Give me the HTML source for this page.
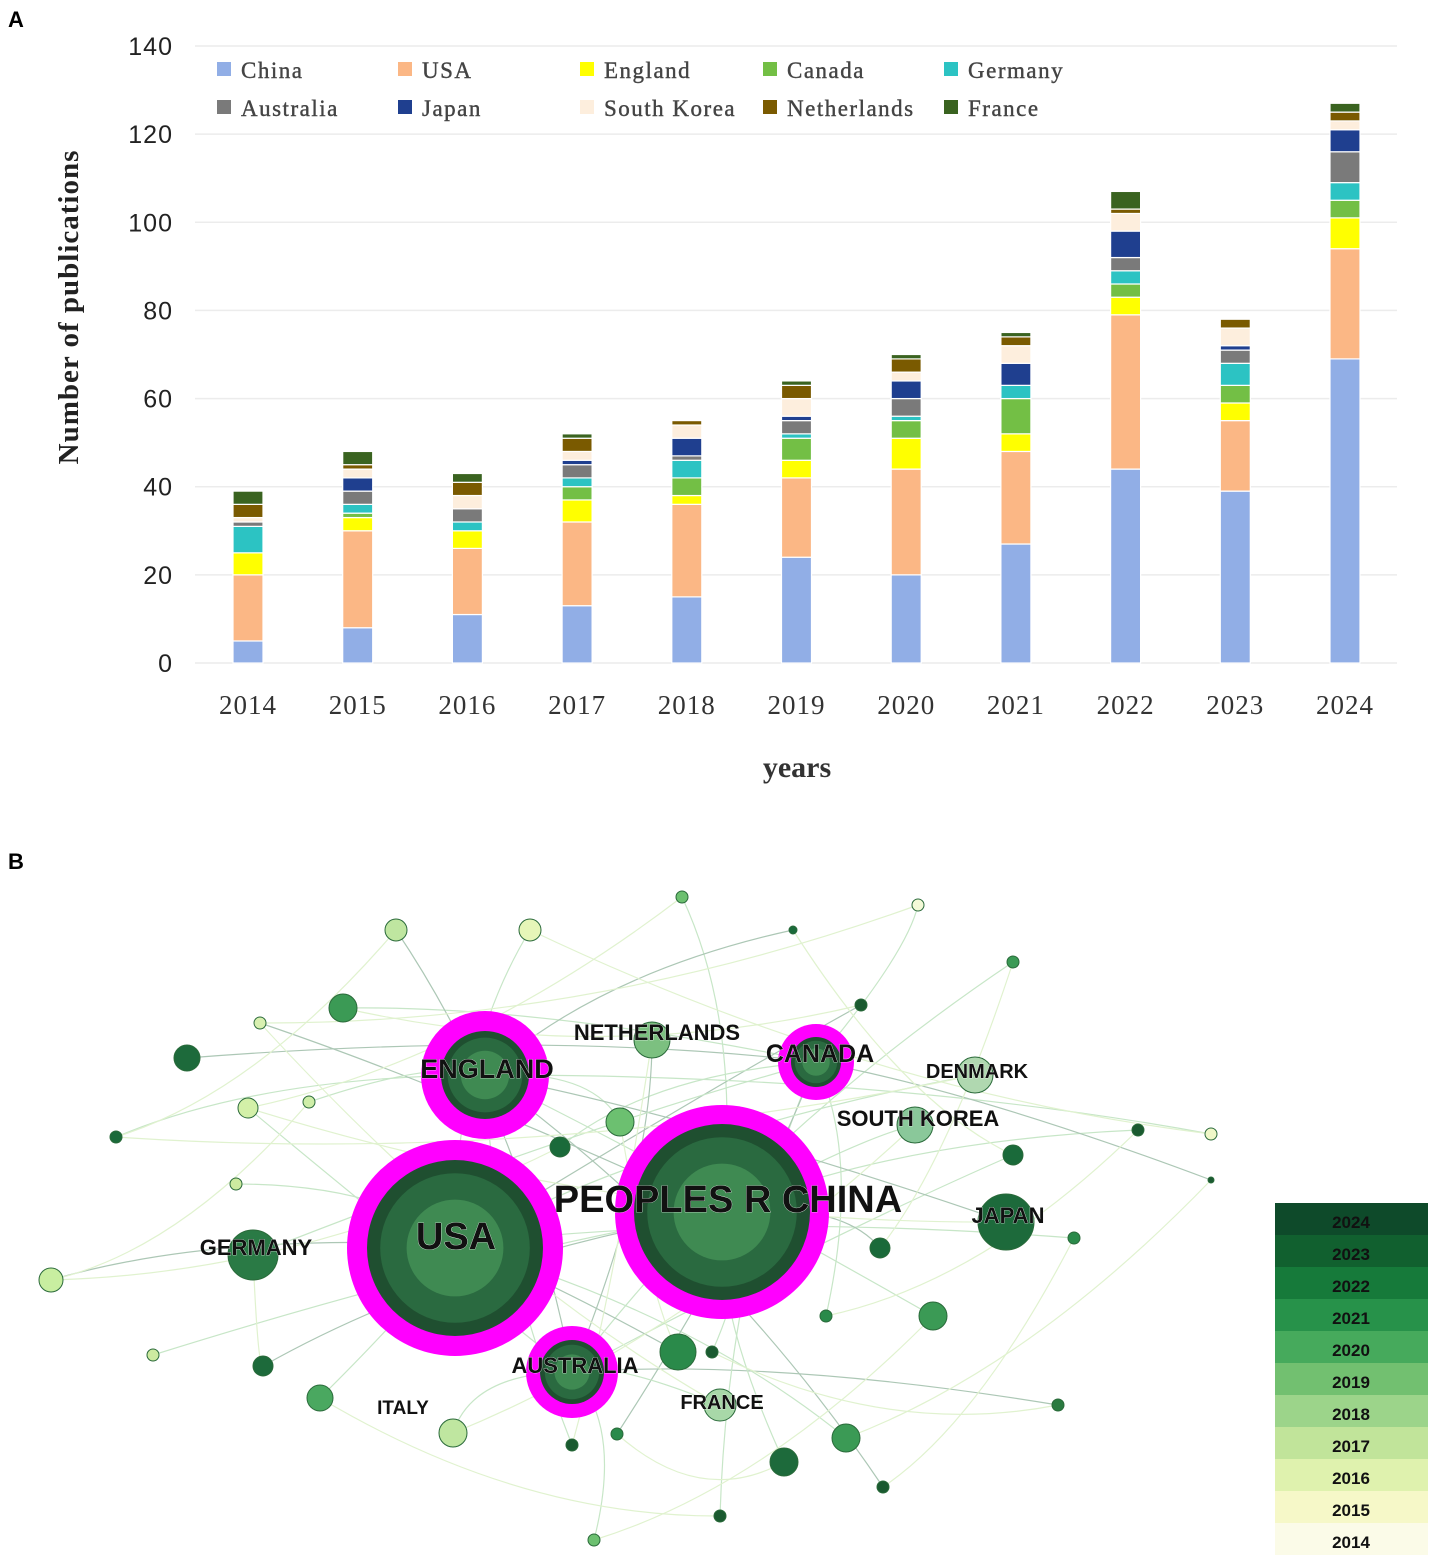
<!DOCTYPE html>
<html><head><meta charset="utf-8">
<style>
body{margin:0;background:#fff;width:1437px;height:1563px;overflow:hidden;font-family:"Liberation Sans",sans-serif}
svg{position:absolute;left:0;top:0}
</style></head>
<body>
<svg id="chart" width="1437" height="800" viewBox="0 0 1437 800"></svg>
<svg id="net" width="1437" height="763" viewBox="0 800 1437 763" style="top:800px"></svg>
<script>
const years=['2014','2015','2016','2017','2018','2019','2020','2021','2022','2023','2024'];
const countries=['China','USA','England','Canada','Germany','Australia','Japan','South Korea','Netherlands','France'];
const colors=['#91aee6','#fbb785','#ffff00','#73bf45','#2cc3c3','#7a7a7a','#1f3f8f','#fdeedd','#7a5a00','#3a6320'];
const China=[5,8,11,13,15,24,20,27,44,39,69];
const USA=[15,22,15,19,21,18,24,21,35,16,25];
const England=[5,3,4,5,2,4,7,4,4,4,7];
const Canada=[0,1,0,3,4,5,4,8,3,4,4];
const Germany=[6,2,2,2,4,1,1,3,3,5,4];
const Australia=[1,3,3,3,1,3,4,0,3,3,7];
const Japan=[0,3,0,1,4,1,4,5,6,1,5];
const SouthKorea=[1,2,3,2,3,4,2,4,4,4,2];
const Netherlands=[3,1,3,3,1,3,3,2,1,2,2];
const France=[3,3,2,1,0,1,1,1,4,0,2];
const yTicks=[0,20,40,60,80,100,120,140];
const series=[China,USA,England,Canada,Germany,Australia,Japan,SouthKorea,Netherlands,France];
const NS='http://www.w3.org/2000/svg';
function mk(p,t,a){const e=document.createElementNS(NS,t);for(const k in a)e.setAttribute(k,a[k]);p.appendChild(e);return e;}
const c=document.getElementById('chart');
const y0=663,y1=46,yMax=140;
const y=v=>y0-(v/yMax)*(y0-y1);
const x=i=>248+i*109.7;
let t=mk(c,'text',{x:8,y:27,'font-size':22,'font-weight':'bold'});t.textContent='A';

yTicks.forEach(v=>{
 const g=mk(c,'line',{x1:195,x2:1397,y1:y(v),y2:y(v),stroke:'#ececec','stroke-width':1.5});
 
 const l=mk(c,'text',{x:173,y:y(v)+9,'text-anchor':'end','font-size':25,fill:'#222','letter-spacing':1});l.textContent=v;
 
});
years.forEach((yr,i)=>{
 let acc=0;
 series.forEach((s,k)=>{
  const v=s[i];if(v<=0){return;}
  const r=mk(c,'rect',{x:x(i)-15,y:y(acc+v),width:30,height:y(acc)-y(acc+v),fill:colors[k],stroke:'#fff','stroke-width':1.2});
  
  
  acc+=v;
 });
 const l=mk(c,'text',{x:x(i),y:714,'text-anchor':'middle','font-size':27,'font-family':'Liberation Serif, serif',fill:'#333','letter-spacing':1});l.textContent=yr;
 
});
t=mk(c,'text',{x:797,y:777,'text-anchor':'middle','font-size':30,'font-weight':'bold','font-family':'Liberation Serif, serif',fill:'#333'});t.textContent='years';

t=mk(c,'text',{x:0,y:0,transform:'translate(78,307) rotate(-90)','text-anchor':'middle','font-size':29,'font-weight':'bold','font-family':'Liberation Serif, serif',fill:'#222','letter-spacing':1});t.textContent='Number of publications';

const lx=[217,398,580,763,944];
countries.forEach((n,k)=>{
 const cx=lx[k%5],cy=k<5?70:108;
 const g=mk(c,'g',{});
 
 mk(g,'rect',{x:cx,y:cy-8,width:14,height:14,fill:colors[k]});
 const l=mk(g,'text',{x:cx+24,y:cy+8,'font-size':23,'font-family':'Liberation Serif, serif',fill:'#444','letter-spacing':1.5,stroke:'#444','stroke-width':0.4});l.textContent=n;
});
// network
const n=document.getElementById('net');
t=mk(n,'text',{x:8,y:869,'font-size':22,'font-weight':'bold'});t.textContent='B';

const hubs=[[455,1245],[722,1212],[485,1075],[816,1062],[572,1372]];
const nodes=[[51,1280,12,'#c8eea0'],[153,1355,6,'#cdeaa0'],[116,1137,6,'#1a6a3a'],[187,1058,13,'#1d6a3b'],[248,1108,10,'#d3f0a8'],[236,1184,6,'#cdeaa0'],[260,1023,6,'#d8f0b0'],[309,1102,6,'#cfeea8'],[343,1008,14,'#3b9a55'],[396,930,11,'#bfe6a0'],[530,930,11,'#e6f6b8'],[682,897,6,'#6cc070'],[793,930,4,'#1a6a3a'],[918,905,6,'#f4fad8'],[1013,962,6,'#3b9a55'],[861,1005,6,'#1a5a30'],[1138,1130,6,'#1a5a30'],[1211,1134,6,'#f0f8c8'],[1211,1180,3,'#1a5a30'],[1013,1155,10,'#1a6a3a'],[1074,1238,6,'#2a8a4a'],[880,1248,10,'#1a6a3a'],[933,1316,14,'#3b9a55'],[826,1316,6,'#2a8a4a'],[1058,1405,6,'#2a7a40'],[846,1438,14,'#3b9a55'],[784,1462,14,'#1d6a3b'],[883,1487,6,'#1a5a30'],[720,1516,6,'#1a5a30'],[594,1540,6,'#6cc070'],[678,1352,18,'#2a8a4a'],[712,1352,6,'#1a5a30'],[572,1445,6,'#1a5a30'],[617,1434,6,'#2a8a4a'],[453,1433,14,'#bfe6a0'],[320,1398,13,'#4aa860'],[263,1366,10,'#1d6a3b'],[620,1122,14,'#6cc070'],[560,1147,10,'#1a6a3a'],[652,1040,18,'#7cc080'],[975,1075,18,'#b0d8b0'],[915,1125,18,'#8ac89a'],[1006,1222,28,'#1d6a3b'],[253,1255,25,'#2a7a45'],[720,1405,16,'#a8d8a8']];
const eg=mk(n,'g',{fill:'none','stroke-width':1.2,opacity:0.55});

nodes.forEach((d,i)=>{const h=hubs[i%5];mk(eg,'path',{d:`M${d[0]},${d[1]} Q${(d[0]+h[0])/2+(i%2?40:-40)},${(d[1]+h[1])/2-30} ${h[0]},${h[1]}`,stroke:i%3?'#9ad29a':'#6a9a7a'});});
for(let i=0;i<nodes.length;i+=2){const a=nodes[i],b=nodes[(i+7)%nodes.length];mk(eg,'path',{d:`M${a[0]},${a[1]} Q${(a[0]+b[0])/2},${(a[1]+b[1])/2+60} ${b[0]},${b[1]}`,stroke:'#c8e8a8'});}
nodes.forEach(d=>{const e=mk(n,'circle',{cx:d[0],cy:d[1],r:d[2],fill:d[3],stroke:'#2a6a3a','stroke-width':1});});
[[455,1248,108,88],[722,1212,107,88],[485,1075,64,44],[816,1062,38,25],[572,1372,46,32]].forEach(h=>{
 const g=mk(n,'g',{});
 mk(g,'circle',{cx:h[0],cy:h[1],r:h[2],fill:'#ff00ff'});
 mk(g,'circle',{cx:h[0],cy:h[1],r:h[3],fill:'#1f4f30'});
 mk(g,'circle',{cx:h[0],cy:h[1],r:h[3]*0.85,fill:'#2a6a40'});
 mk(g,'circle',{cx:h[0],cy:h[1],r:h[3]*0.55,fill:'#3f8a52'});
});
[['PEOPLES R CHINA',728,1212,38],['USA',456,1249,38],['ENGLAND',487,1078,27],['CANADA',820,1062,25],['NETHERLANDS',657,1040,22],['DENMARK',977,1078,20],['SOUTH KOREA',918,1126,22],['JAPAN',1008,1223,22],['GERMANY',256,1255,22],['AUSTRALIA',575,1373,22],['ITALY',403,1414,19],['FRANCE',722,1409,20]].forEach(l=>{
 const e=mk(n,'text',{x:l[1],y:l[2],'text-anchor':'middle','font-size':l[3],'font-weight':'bold',fill:'#111',stroke:'#fff','stroke-width':0.6,'paint-order':'stroke'});e.textContent=l[0];
 
});
const lg=['#0e4a2a','#11602f','#167a3a','#27924a','#46aa5c','#72c070','#9cd48a','#c1e49a','#dff2ae','#f6f8c8','#fbfbe8'];
const ly=['2024','2023','2022','2021','2020','2019','2018','2017','2016','2015','2014'];
ly.forEach((yr,i)=>{const g=mk(n,'g',{});
 mk(g,'rect',{x:1275,y:1203+i*32,width:153,height:32,fill:lg[i]});
 const e=mk(g,'text',{x:1351,y:1228+i*32,'text-anchor':'middle','font-size':17,'font-weight':'bold',fill:'#111'});e.textContent=yr;});
</script>
</body></html>
